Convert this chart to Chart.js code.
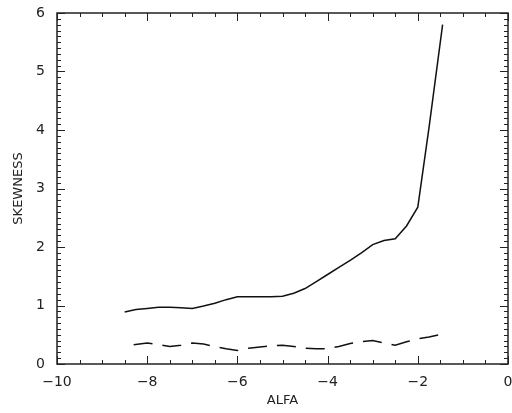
<!DOCTYPE html>
<html>
<head>
<meta charset="utf-8">
<script src="https://cdn.jsdelivr.net/npm/chart.js@4"></script>
<style>
  html, body { margin: 0; padding: 0; background: #fff; }
  #wrap { width: 512px; height: 413px; }
</style>
</head>
<body>
<div id="wrap"><canvas id="skewChart" width="512" height="413"></canvas></div>
<script>
// Solid curve
const solidAlfa = [-8.5, -8.25, -8, -7.75, -7.5, -7.25, -7, -6.75, -6.5, -6.25, -6, -5.75, -5.5, -5.25,
  -5, -4.75, -4.5, -4.25, -4, -3.75, -3.5, -3.25, -3, -2.75, -2.5, -2.25, -2, -1.75, -1.45];
const solidSkew = [0.89, 0.93, 0.95, 0.97, 0.97, 0.96, 0.95, 0.99, 1.04, 1.10, 1.15, 1.15, 1.15, 1.15,
  1.16, 1.21, 1.29, 1.41, 1.53, 1.65, 1.77, 1.90, 2.04, 2.11, 2.14, 2.36, 2.68, 4.05, 5.8];

// Dashed curve
const dashAlfa = [-8.3, -8, -7.75, -7.5, -7.25, -7, -6.75, -6.5, -6.25, -6, -5.75, -5.5, -5.25,
  -5, -4.75, -4.5, -4.25, -4, -3.75, -3.5, -3.25, -3, -2.75, -2.5, -2.25, -2, -1.75, -1.42];
const dashSkew = [0.33, 0.36, 0.33, 0.30, 0.32, 0.36, 0.34, 0.30, 0.26, 0.23, 0.27, 0.29, 0.31,
  0.32, 0.30, 0.27, 0.26, 0.26, 0.30, 0.35, 0.38, 0.40, 0.36, 0.32, 0.38, 0.43, 0.46, 0.52];

// Axes
const xMin = -10, xMax = 0, xMajor = 2, xMinor = 0.5;
const yMin = 0, yMax = 6, yMajor = 1, yMinor = 0.1;

const toPoints = (xs, ys) => xs.map((x, i) => ({ x: x, y: ys[i] }));
const minus = v => (v < 0 ? '\u2212' + Math.abs(v) : String(v));

// IDL-style frame with inward ticks on all four sides
const framePlugin = {
  id: 'frame',
  afterDraw(chart) {
    const { ctx, chartArea: a, scales } = chart;
    ctx.save();
    ctx.strokeStyle = '#222';
    ctx.lineWidth = 1.5;
    ctx.strokeRect(a.left, a.top, a.right - a.left, a.bottom - a.top);
    ctx.lineWidth = 1;
    ctx.beginPath();
    const nx = Math.round((xMax - xMin) / xMinor);
    for (let i = 0; i <= nx; i++) {
      const v = xMin + i * xMinor;
      const px = Math.round(scales.x.getPixelForValue(v)) + 0.5;
      const len = Math.abs(v / xMajor - Math.round(v / xMajor)) < 1e-6 ? 8 : 4;
      ctx.moveTo(px, a.bottom); ctx.lineTo(px, a.bottom - len);
      ctx.moveTo(px, a.top); ctx.lineTo(px, a.top + len);
    }
    const ny = Math.round((yMax - yMin) / yMinor);
    for (let i = 0; i <= ny; i++) {
      const v = yMin + i * yMinor;
      const py = Math.round(scales.y.getPixelForValue(v)) + 0.5;
      const len = i % Math.round(yMajor / yMinor) === 0 ? 8 : 4;
      ctx.moveTo(a.left, py); ctx.lineTo(a.left + len, py);
      ctx.moveTo(a.right, py); ctx.lineTo(a.right - len, py);
    }
    ctx.stroke();
    ctx.restore();
  }
};

const font = { family: 'DejaVu Sans', size: 13 };

new Chart(document.getElementById('skewChart'), {
  type: 'line',
  data: {
    datasets: [
      {
        label: 'solid',
        data: toPoints(solidAlfa, solidSkew),
        borderColor: '#111',
        borderWidth: 1.5,
        pointRadius: 0,
        tension: 0,
        fill: false
      },
      {
        label: 'dashed',
        data: toPoints(dashAlfa, dashSkew),
        borderColor: '#111',
        borderWidth: 1.5,
        borderDash: [19, 10],
        pointRadius: 0,
        tension: 0,
        fill: false
      }
    ]
  },
  options: {
    responsive: false,
    animation: false,
    layout: { padding: { top: 13, right: 4, left: 0, bottom: 0 } },
    plugins: {
      legend: { display: false },
      tooltip: { enabled: false }
    },
    scales: {
      x: {
        type: 'linear',
        min: xMin,
        max: xMax,
        grid: { display: false, drawTicks: false },
        border: { display: false },
        ticks: {
          stepSize: xMajor,
          color: '#222',
          font: { family: 'DejaVu Sans', size: 14 },
          padding: 10,
          maxRotation: 0,
          callback: v => minus(v)
        },
        title: { display: true, text: 'ALFA', color: '#222', font: font, padding: { top: 0, bottom: 5 } },
        afterFit: s => { s.height = 49; s.paddingLeft = 0; s.paddingRight = 0; }
      },
      y: {
        type: 'linear',
        min: yMin,
        max: yMax,
        grid: { display: false, drawTicks: false },
        border: { display: false },
        ticks: {
          stepSize: yMajor,
          color: '#222',
          font: { family: 'DejaVu Sans', size: 14 },
          padding: 12,
          callback: v => minus(v)
        },
        title: { display: true, text: 'SKEWNESS', color: '#222', font: font, padding: { top: 11, bottom: 0 } },
        afterFit: s => { s.width = 57; s.paddingTop = 0; s.paddingBottom = 0; }
      }
    }
  },
  plugins: [framePlugin]
});
</script>
</body>
</html>
